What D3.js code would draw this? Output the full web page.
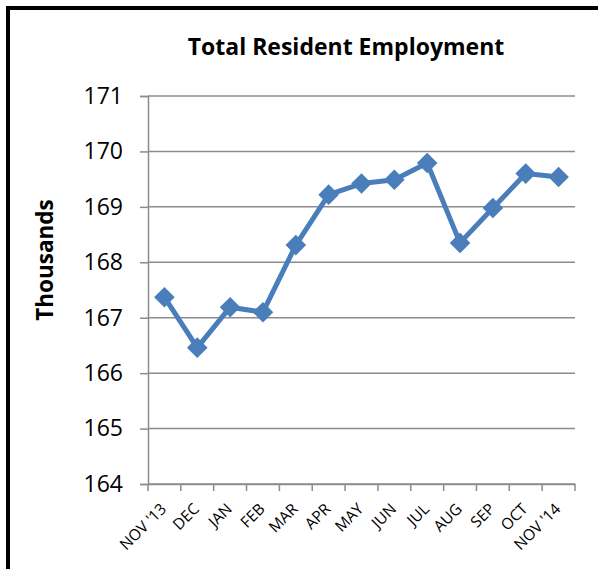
<!DOCTYPE html>
<html>
<head>
<meta charset="utf-8">
<script src="https://cdn.jsdelivr.net/npm/d3@7"></script>
<style>
  html, body { margin: 0; padding: 0; background: #fff; }
  svg { display: block; }
</style>
</head>
<body>
<svg id="chart" width="598" height="569"></svg>
<script>
// Monthly resident employment, thousands
const months = ["NOV '13", "DEC", "JAN", "FEB", "MAR", "APR", "MAY", "JUN", "JUL", "AUG", "SEP", "OCT", "NOV '14"];
const employment = [167.37, 166.46, 167.19, 167.10, 168.31, 169.22, 169.42, 169.49, 169.79, 168.35, 168.98, 169.60, 169.54];
const yTicks = [164, 165, 166, 167, 168, 169, 170, 171];

const svg = d3.select("#chart");
const W = 598, H = 569;
const plot = { left: 148, right: 575, top: 96, bottom: 484 };
const font = "'Open Sans', sans-serif";
const gridColor = "#8c8c8c";
const lineColor = "#4a7ebb";

svg.append("rect").attr("width", W).attr("height", H).attr("fill", "#fff");

// frame: left and top rules
svg.append("rect").attr("x", 6).attr("y", 6).attr("width", 4).attr("height", H - 6).attr("fill", "#000");
svg.append("rect").attr("x", 6).attr("y", 6).attr("width", W - 6).attr("height", 4).attr("fill", "#000");

const x = d3.scaleBand().domain(months).range([plot.left, plot.right]).paddingInner(0).paddingOuter(0);
const y = d3.scaleLinear().domain([164, 171]).range([plot.bottom, plot.top]);

// horizontal gridlines
svg.append("g")
  .selectAll("line")
  .data(yTicks)
  .join("line")
  .attr("x1", plot.left).attr("x2", plot.right)
  .attr("y1", d => y(d)).attr("y2", d => y(d))
  .attr("stroke", gridColor).attr("stroke-width", 1.5);

// y axis
const yAxis = svg.append("g")
  .attr("transform", `translate(${plot.left},0)`)
  .call(d3.axisLeft(y).tickValues(yTicks).tickSize(8).tickPadding(17).tickFormat(d3.format("d")));
yAxis.select(".domain").attr("stroke", gridColor).attr("stroke-width", 1.5);
yAxis.selectAll(".tick line").attr("stroke", gridColor).attr("stroke-width", 1.5);
yAxis.selectAll(".tick text")
  .attr("font-family", font).attr("font-size", 23).attr("fill", "#000");

// x axis with ticks at category boundaries
const xAxis = svg.append("g")
  .attr("transform", `translate(0,${plot.bottom})`)
  .call(d3.axisBottom(x).tickSize(0).tickSizeOuter(0));
xAxis.select(".domain").attr("stroke", gridColor).attr("stroke-width", 1.5);
xAxis.selectAll(".tick line").remove();
const bounds = months.map(m => x(m)).concat([plot.right]);
xAxis.selectAll("line.bound")
  .data(bounds)
  .join("line")
  .attr("class", "bound")
  .attr("x1", d => d).attr("x2", d => d)
  .attr("y1", 0).attr("y2", 7)
  .attr("stroke", gridColor).attr("stroke-width", 1.5);
xAxis.selectAll(".tick text")
  .attr("font-family", font).attr("font-size", 15.5).attr("fill", "#000")
  .attr("text-anchor", "end")
  .attr("dy", null)
  .attr("y", 0)
  .attr("transform", "translate(0,23) rotate(-45)")
  .attr("dominant-baseline", "middle");

// series line
const cx = m => x(m) + x.bandwidth() / 2;
svg.append("path")
  .datum(employment)
  .attr("fill", "none")
  .attr("stroke", lineColor)
  .attr("stroke-width", 5)
  .attr("stroke-linejoin", "round")
  .attr("d", d3.line().x((d, i) => cx(months[i])).y(d => y(d)));

// diamond markers
svg.append("g")
  .selectAll("path")
  .data(employment)
  .join("path")
  .attr("transform", (d, i) => `translate(${cx(months[i])},${y(d)})`)
  .attr("d", d3.symbol().type(d3.symbolDiamond2).size(270))
  .attr("fill", lineColor);

// title
svg.append("text")
  .attr("x", 346).attr("y", 55)
  .attr("text-anchor", "middle")
  .attr("font-family", font).attr("font-weight", "bold").attr("font-size", 23)
  .text("Total Resident Employment");

// y axis title
svg.append("text")
  .attr("transform", `translate(53,260) rotate(-90)`)
  .attr("text-anchor", "middle")
  .attr("font-family", font).attr("font-weight", "bold").attr("font-size", 22.5)
  .text("Thousands");
</script>
</body>
</html>
